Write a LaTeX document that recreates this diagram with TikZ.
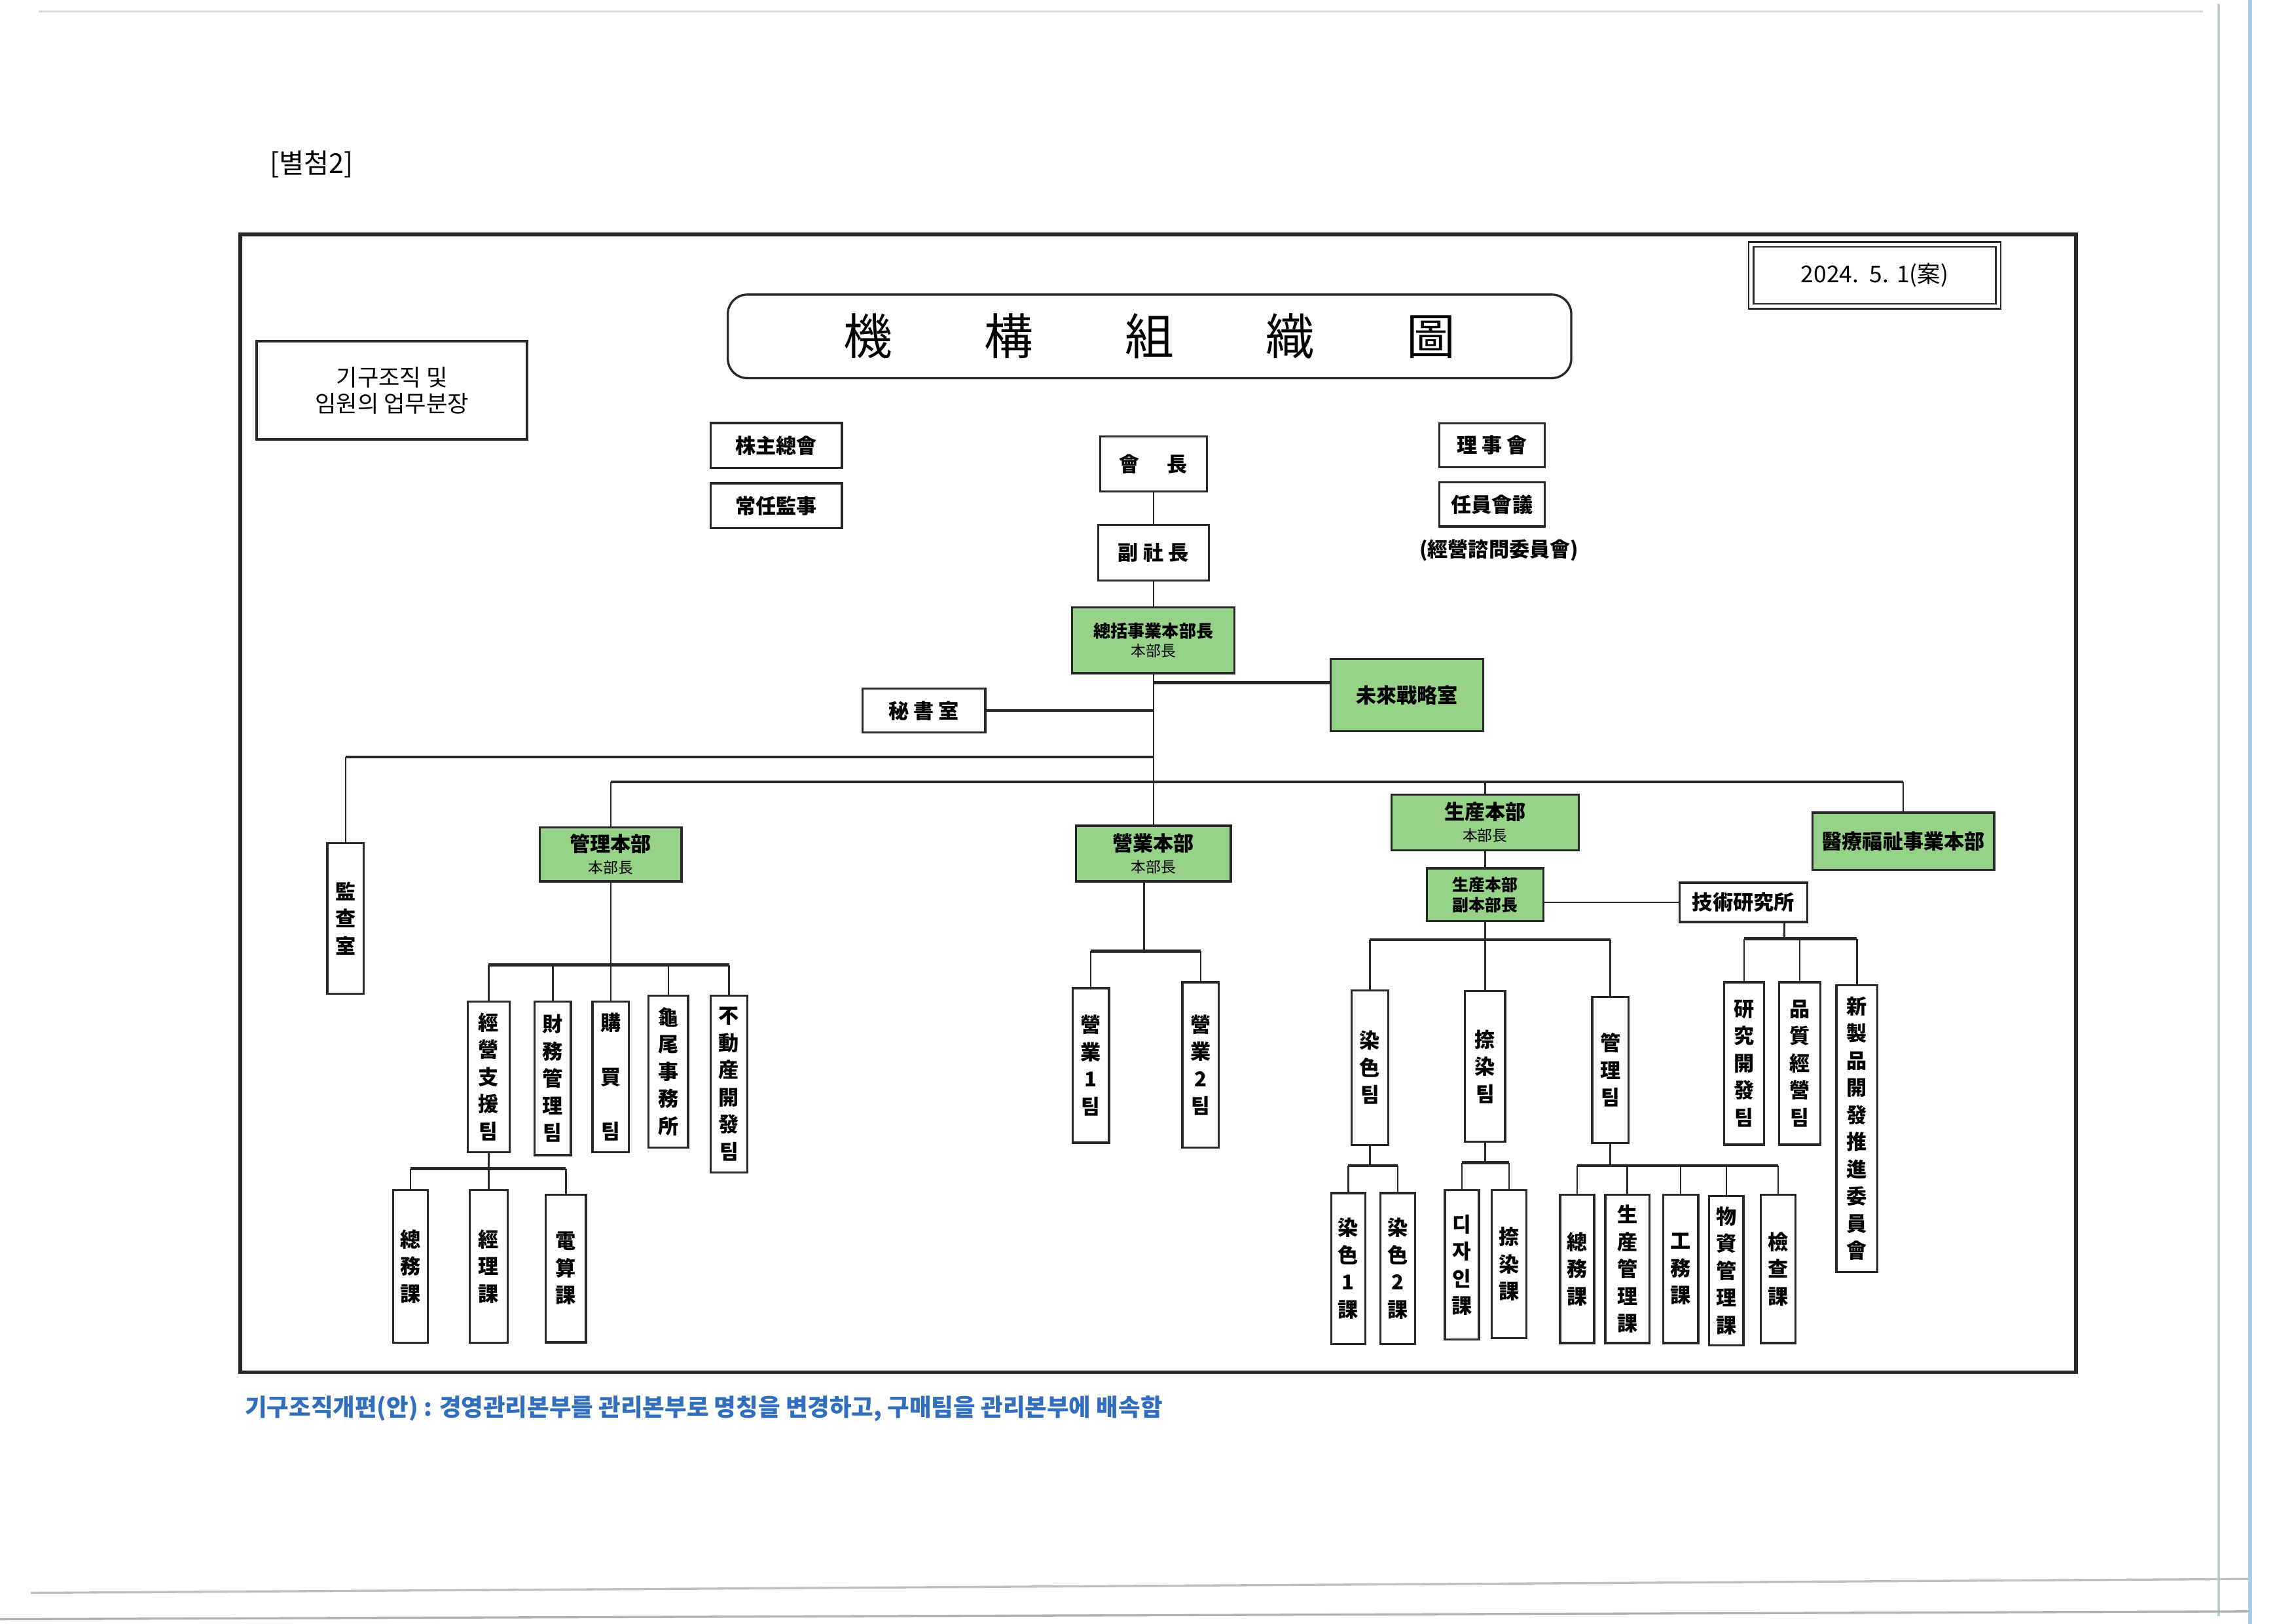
\documentclass[tikz,border=0pt]{standalone}
\usepackage{fontspec}
\setmainfont{Noto Sans CJK KR}
\usetikzlibrary{positioning}
\definecolor{boxgreen}{RGB}{150,210,135}
\definecolor{linec}{RGB}{40,40,40}
\definecolor{noteblue}{RGB}{50,110,190}
\definecolor{scanblue}{RGB}{165,205,232}
\definecolor{scangreen}{RGB}{185,210,200}
\newcommand{\hdlabel}[1]{{\mdseries\fontsize{5.5}{6}\selectfont #1}}
\tikzset{
	box/.style={draw=linec,line width=0.8pt,fill=white,inner sep=0pt,align=center,
		font=\bfseries\fontsize{7.5}{10}\selectfont},
	gbox/.style={box,fill=boxgreen,font=\bfseries\fontsize{7.5}{8}\selectfont},
	vbox/.style={box,anchor=north,minimum width=0.47cm,minimum height=1.95cm},
	link/.style={draw=linec,line width=0.6pt},
	bus/.style={draw=linec,line width=1.1pt}
}

\begin{document}
\begin{tikzpicture}
	\useasboundingbox (0,0) rectangle (29.7,21);
	% scan marks
	\draw[scangreen,line width=1pt] (28.70,20.95) -- (28.70,0.1);
	\draw[scanblue,line width=1.4pt] (29.11,21) -- (29.11,0);
	\draw[black!25,line width=0.8pt] (0.4,0.40) -- (29.1,0.58);
	\draw[black!30,line width=0.8pt] (0,0.06) -- (29.1,0.16);
	\draw[black!15,line width=0.6pt] (0.5,20.85) -- (28.5,20.85);
	
	\node[font=\fontsize{10}{12}\selectfont] (attach) at (4.03,18.88) {[별첨2]};
	\draw[linec,line width=1.4pt] (3.106,17.97) rectangle (26.856,3.254);
	\node[anchor=west,inner sep=0pt,text=noteblue,font=\bfseries\fontsize{8.8}{10}\selectfont] (note) at (3.163,2.78)
		{기구조직개편(안) : 경영관리본부를 관리본부로 명칭을 변경하고, 구매팀을 관리본부에 배속함};
	
	% header
	\node[box,line width=1pt,minimum width=3.50cm,minimum height=1.27cm,font=\fontsize{8.5}{9.5}\selectfont] (memo) at (5.07,15.95) {기구조직 및\\임원의 업무분장};
	\node[box,rounded corners=0.25cm,minimum width=10.91cm,minimum height=1.08cm,font=\fontsize{18}{20}\selectfont] (title) at (14.87,16.65)
		{機\hspace{1.19cm}構\hspace{1.19cm}組\hspace{1.19cm}織\hspace{1.19cm}圖};
	\node[box,double,double distance=1.2pt,line width=0.6pt,minimum width=3.2cm,minimum height=0.8cm,font=\fontsize{8.5}{10}\selectfont] (date) at (24.25,17.44) {2024.\hspace{4pt}5.\hspace{3pt}1(案)};
	
	% top
	\node[box,minimum width=1.70cm,minimum height=0.58cm] (gsm) at (10.04,15.24) {株主總會};
	\node[box,minimum width=1.70cm,minimum height=0.58cm] (auditor) at (10.04,14.46) {常任監事};
	\node[box,minimum width=1.38cm,minimum height=0.71cm] (ceo) at (14.92,15.00) {會\hspace{0.35cm}長};
	\node[box,minimum width=1.43cm,minimum height=0.72cm] (vp) at (14.92,13.85) {副 社 長};
	\node[box,minimum width=1.36cm,minimum height=0.57cm] (board) at (19.30,15.24) {理 事 會};
	\node[box,minimum width=1.36cm,minimum height=0.57cm] (execm) at (19.30,14.475) {任員會議};
	\node[font=\bfseries\fontsize{7.5}{9}\selectfont] (advis) at (19.39,13.885) {(經營諮問委員會)};
	\node[gbox,minimum width=2.10cm,minimum height=0.85cm,font=\bfseries\fontsize{6.3}{7.1}\selectfont] (hq) at (14.92,12.72) {總括事業本部長\\\hdlabel{本部長}};
	\node[gbox,minimum width=1.97cm,minimum height=0.93cm] (future) at (18.20,12.01) {未來戰略室};
	\node[box,minimum width=1.59cm,minimum height=0.57cm] (secr) at (11.95,11.81) {秘 書 室};
	
	\coordinate (fj) at (14.92,12.17);
	\coordinate (bus1) at (14.92,11.21);
	\coordinate (bus2) at (14.92,10.89);
	
	% divisions
	\node[vbox] (audit) at (4.47,10.11) {監\\查\\室};
	\node[gbox,minimum width=1.83cm,minimum height=0.70cm] (mgmt) at (7.90,9.95) {管理本部\\\hdlabel{本部長}};
	\node[gbox,minimum width=2.0cm,minimum height=0.72cm] (sales) at (14.92,9.96) {營業本部\\\hdlabel{本部長}};
	\node[gbox,minimum width=2.42cm,minimum height=0.72cm] (prod) at (19.21,10.366) {生産本部\\\hdlabel{本部長}};
	\node[gbox,minimum width=2.35cm,minimum height=0.74cm] (welfare) at (24.62,10.12) {醫療福祉事業本部};
	\node[gbox,minimum width=1.51cm,minimum height=0.68cm,font=\bfseries\fontsize{6}{7.4}\selectfont] (deputy) at (19.21,9.43) {生産本部\\副本部長};
	\node[box,minimum width=1.65cm,minimum height=0.51cm] (lab) at (22.55,9.33) {技術研究所};
	
	% teams
	\node[vbox,minimum width=0.54cm] (m1) at (6.32,8.064) {經\\營\\支\\援\\팀};
	\node[vbox,minimum height=1.99cm] (m2) at (7.15,8.064) {財\\務\\管\\理\\팀};
	\node[vbox] (m3) at (7.90,8.064) {購\\[10pt]買\\[10pt]팀};
	\node[vbox,minimum width=0.51cm,minimum height=1.97cm] (m4) at (8.646,8.14) {龜\\尾\\事\\務\\所};
	\node[vbox,minimum height=2.29cm] (m5) at (9.43,8.14) {不\\動\\産\\開\\發\\팀};
	\node[vbox,minimum height=2.0cm] (s1) at (14.11,8.235) {營\\業\\1\\팀};
	\node[vbox,minimum height=2.14cm] (s2) at (15.53,8.31) {營\\業\\2\\팀};
	\node[vbox,minimum height=2.0cm] (p1) at (17.72,8.207) {染\\色\\팀};
	\node[vbox,minimum width=0.52cm] (p2) at (19.21,8.197) {捺\\染\\팀};
	\node[vbox,minimum height=1.89cm] (p3) at (20.83,8.121) {管\\理\\팀};
	\node[vbox,minimum width=0.52cm,minimum height=2.10cm] (r1) at (22.56,8.31) {研\\究\\開\\發\\팀};
	\node[vbox,minimum width=0.53cm,minimum height=2.10cm] (r2) at (23.28,8.31) {品\\質\\經\\營\\팀};
	\node[vbox,minimum width=0.53cm,minimum height=3.71cm] (r3) at (24.02,8.273) {新\\製\\品\\開\\發\\推\\進\\委\\員\\會};
	
	% sections
	\node[vbox,minimum width=0.45cm,minimum height=1.97cm] (k1) at (5.31,5.621) {總\\務\\課};
	\node[vbox,minimum width=0.49cm,minimum height=1.97cm] (k2) at (6.32,5.621) {經\\理\\課};
	\node[vbox,minimum width=0.52cm,minimum height=1.91cm] (k3) at (7.32,5.564) {電\\算\\課};
	\node[vbox,minimum width=0.44cm] (q1) at (17.44,5.583) {染\\色\\1\\課};
	\node[vbox,minimum width=0.45cm] (q2) at (18.08,5.583) {染\\色\\2\\課};
	\node[vbox,minimum width=0.44cm,minimum height=1.93cm] (q3) at (18.91,5.621) {디\\자\\인\\課};
	\node[vbox,minimum width=0.445cm,minimum height=1.91cm] (q4) at (19.52,5.621) {捺\\染\\課};
	\node[vbox,minimum width=0.44cm,minimum height=1.92cm] (q5) at (20.40,5.564) {總\\務\\課};
	\node[vbox,minimum width=0.57cm,minimum height=1.92cm] (q6) at (21.05,5.564) {生\\産\\管\\理\\課};
	\node[vbox,minimum width=0.455cm,minimum height=1.92cm] (q7) at (21.74,5.564) {工\\務\\課};
	\node[vbox,minimum width=0.445cm,minimum height=1.93cm] (q8) at (22.33,5.545) {物\\資\\管\\理\\課};
	\node[vbox,minimum width=0.445cm,minimum height=1.92cm] (q9) at (23.00,5.564) {檢\\查\\課};
	
	\coordinate (mb) at (7.90,8.52);
	\coordinate (sb) at (14.80,8.70);
	\coordinate (pb) at (19.21,8.847);
	\coordinate (rb) at (23.08,8.86);
	\coordinate (kb) at (6.32,5.886);
	\coordinate (qa) at (17.72,5.924);
	\coordinate (qb) at (19.21,5.962);
	\coordinate (qc) at (20.83,5.924);
	
	% top lines
	\draw[link] (ceo) -- (vp);
	\draw[link] (vp) -- (hq);
	\draw[link] (hq.south) -- (sales.north);
	\draw[bus] (fj) -- (fj -| future.west);
	\draw[bus] (secr.east) -- (secr.east -| hq.south);
	\draw[bus] (bus1) -- (bus1 -| audit.north);
	\draw[link] (bus1 -| audit.north) -- (audit.north);
	\draw[bus] (bus2 -| mgmt.north) -- (bus2 -| welfare.north);
	\draw[link] (bus2 -| mgmt.north) -- (mgmt.north);
	\draw[link] (bus2 -| prod.north) -- (prod.north);
	\draw[link] (bus2 -| welfare.north) -- (welfare.north);
	\draw[link] (prod) -- (deputy);
	\draw[link] (deputy.east |- lab.west) -- (lab.west);
	
	% team lines
	\draw[link] (mgmt.south) -- (m3.north);
	\draw[bus] (mb -| m1.north) -- (mb -| m5.north);
	\draw[link] (mb -| m1.north) -- (m1.north);
	\draw[link] (mb -| m2.north) -- (m2.north);
	\draw[link] (mb -| m4.north) -- (m4.north);
	\draw[link] (mb -| m5.north) -- (m5.north);
	
	\draw[link] (sb |- sales.south) -- (sb);
	\draw[bus] (sb -| s1.north) -- (sb -| s2.north);
	\draw[link] (sb -| s1.north) -- (s1.north);
	\draw[link] (sb -| s2.north) -- (s2.north);
	
	\draw[link] (deputy.south) -- (p2.north);
	\draw[bus] (pb -| p1.north) -- (pb -| p3.north);
	\draw[link] (pb -| p1.north) -- (p1.north);
	\draw[link] (pb -| p3.north) -- (p3.north);
	
	\draw[link] (rb |- lab.south) -- (rb);
	\draw[bus] (rb -| r1.north) -- (rb -| r3.north);
	\draw[link] (rb -| r1.north) -- (r1.north);
	\draw[link] (rb -| r2.north) -- (r2.north);
	\draw[link] (rb -| r3.north) -- (r3.north);
	
	% section lines
	\draw[link] (m1.south) -- (k2.north);
	\draw[bus] (kb -| k1.north) -- (kb -| k3.north);
	\draw[link] (kb -| k1.north) -- (k1.north);
	\draw[link] (kb -| k3.north) -- (k3.north);
	
	\draw[link] (p1.south) -- (qa);
	\draw[bus] (qa -| q1.north) -- (qa -| q2.north);
	\draw[link] (qa -| q1.north) -- (q1.north);
	\draw[link] (qa -| q2.north) -- (q2.north);
	
	\draw[link] (p2.south) -- (qb);
	\draw[bus] (qb -| q3.north) -- (qb -| q4.north);
	\draw[link] (qb -| q3.north) -- (q3.north);
	\draw[link] (qb -| q4.north) -- (q4.north);
	
	\draw[link] (p3.south) -- (qc);
	\draw[bus] (qc -| q5.north) -- (qc -| q9.north);
	\draw[link] (qc -| q5.north) -- (q5.north);
	\draw[link] (qc -| q6.north) -- (q6.north);
	\draw[link] (qc -| q7.north) -- (q7.north);
	\draw[link] (qc -| q8.north) -- (q8.north);
	\draw[link] (qc -| q9.north) -- (q9.north);
\end{tikzpicture}
\end{document}
